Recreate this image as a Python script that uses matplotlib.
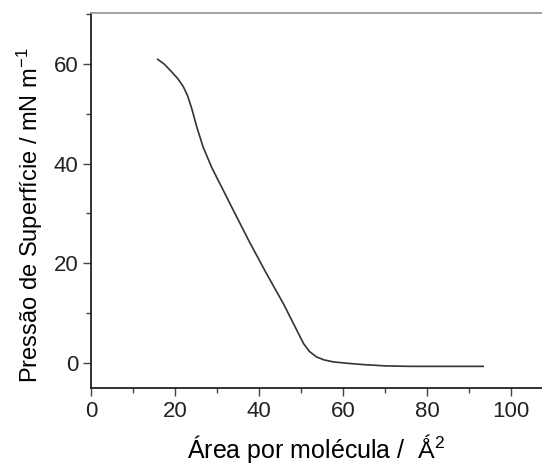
import numpy as np
import matplotlib
matplotlib.use('Agg')
import matplotlib.pyplot as plt
from matplotlib.ticker import MultipleLocator

plt.rcParams['font.family'] = ['Liberation Sans', 'DejaVu Sans']
plt.rcParams['mathtext.fontset'] = 'custom'
plt.rcParams['mathtext.rm'] = 'Liberation Sans'
plt.rcParams['mathtext.it'] = 'Liberation Sans'

# isotherm
area = [15.9, 17.5, 19.2, 20.7, 22.0, 23.0, 24.0, 25.2, 26.7, 28.7, 30.3,
        31.1, 33.9, 37.9, 41.8, 45.8, 48.2, 50.6, 52.0, 53.7, 55.5, 57.7,
        61.3, 65.0, 70.0, 76.0, 85.0, 93.4]
pressure = [60.9, 59.9, 58.4, 57.0, 55.4, 53.6, 51.0, 47.3, 43.3, 39.3, 36.6,
            35.3, 30.6, 24.0, 17.9, 11.9, 7.9, 3.9, 2.3, 1.2, 0.6, 0.2,
            -0.1, -0.35, -0.6, -0.7, -0.7, -0.7]

fig = plt.figure(figsize=(5.42, 4.70), dpi=100)
ax = fig.add_axes([91 / 542, (470 - 388.3) / 470, 1 - 91 / 542, (388.3 - 13) / 470])

ax.plot(area, pressure, color='#333333', lw=1.2)

ax.set_xlim(0, 107.4)
ax.set_ylim(-5.1, 70.2)
ax.xaxis.set_major_locator(MultipleLocator(20))
ax.xaxis.set_minor_locator(MultipleLocator(10))
ax.yaxis.set_major_locator(MultipleLocator(20))
ax.yaxis.set_minor_locator(MultipleLocator(10))
ax.tick_params(which='major', length=6, width=1, labelsize=16, color='#444444',
               labelcolor='#222222', pad=3)
ax.tick_params(which='minor', length=3.5, width=1, color='#444444')

ax.spines['right'].set_visible(False)
ax.spines['top'].set_color('#999999')
ax.spines['top'].set_linewidth(1.3)
for s in ['left', 'bottom']:
    ax.spines[s].set_color('#222222')
    ax.spines[s].set_linewidth(1.3)

ax.set_xlabel('Área por molécula /  Ǻ$^2$', fontsize=18, labelpad=7)
ax.set_ylabel('Pressão de Superfície / mN m$^{-1}$', fontsize=17)
ax.yaxis.set_label_coords(-0.102, 0.46)

fig.savefig('out.png', dpi=100)
